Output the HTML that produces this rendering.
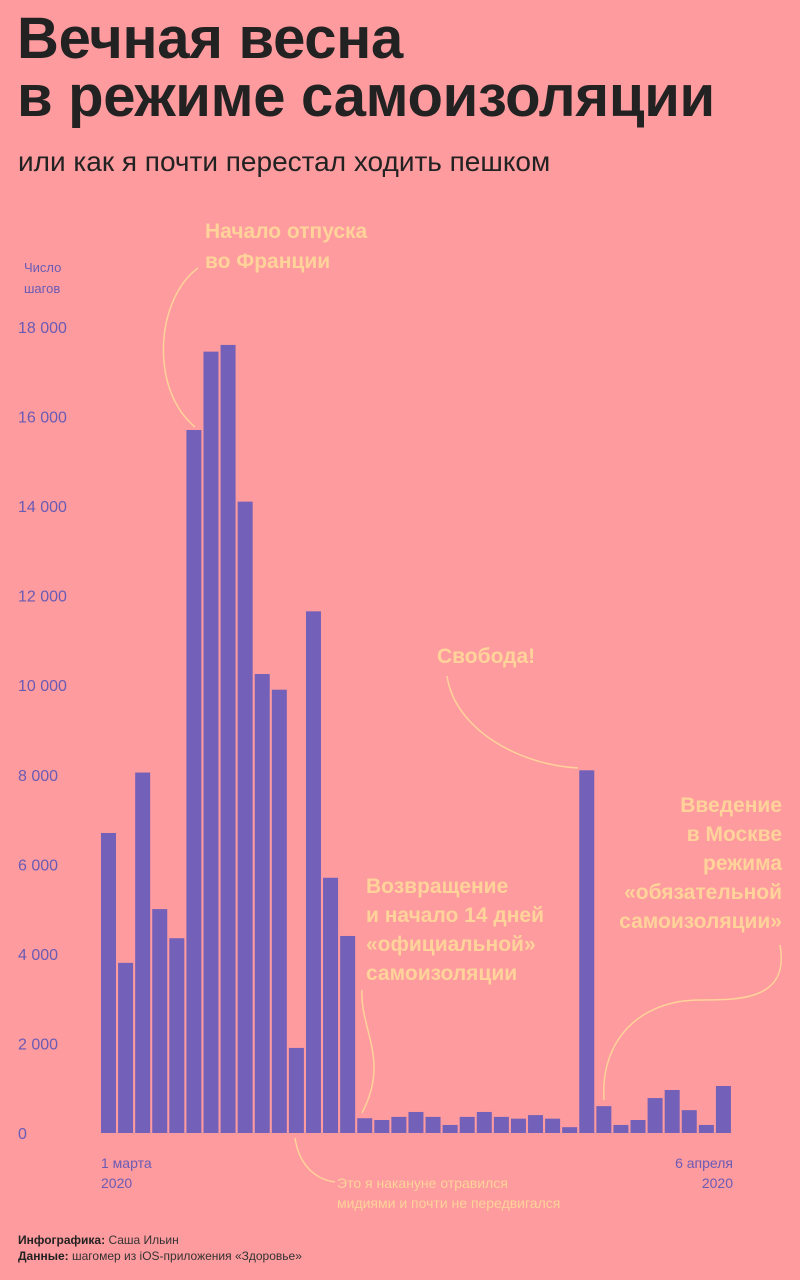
<!DOCTYPE html>
<html><head><meta charset="utf-8"><style>
body{margin:0;width:800px;height:1280px;background:#fe9b9e;font-family:"Liberation Sans","Noto Sans CJK SC",sans-serif;overflow:hidden;position:relative}
.t{position:absolute;margin:0}
</style></head><body>
<h1 class="t" style="left:17px;top:10px;font-size:58px;line-height:58px;font-weight:bold;color:#222;letter-spacing:-0.3px">Вечная весна<br>в режиме самоизоляции</h1>
<div class="t" style="left:18px;top:146px;font-size:28px;color:#222">или как я почти перестал ходить пешком</div>
<svg id="chart" width="800" height="1280" style="position:absolute;left:0;top:0"></svg>
<div class="t" style="left:18px;top:1232px;font-size:12px;line-height:16px;color:#333"><b style="color:#222">Инфографика:</b> Саша Ильин<br><b style="color:#222">Данные:</b> шагомер из iOS-приложения «Здоровье»</div>
<script>
const categories = Array.from({length:37},(_,i)=>i+1);
const steps = [6700,3800,8050,5000,4350,15700,17450,17600,14100,10250,9900,1900,11650,5700,4400,330,290,360,470,360,180,360,470,360,320,400,320,130,8100,600,180,290,780,960,510,180,1050];
const yTicks = [0,2000,4000,6000,8000,10000,12000,14000,16000,18000];
const yTickLabels = ["0","2 000","4 000","6 000","8 000","10 000","12 000","14 000","16 000","18 000"];
const svg=document.getElementById('chart');
const NS='http://www.w3.org/2000/svg';
const x0=101,x1=733,base=1133,top18=327;
const pitch=(x1-x0)/categories.length,bw=15;
const xPos=i=>x0+i*pitch;
const yPos=v=>base-(v/18000)*(base-top18);
function mk(tag,attrs,txt){const e=document.createElementNS(NS,tag);for(const k in attrs)e.setAttribute(k,attrs[k]);if(txt!=null)e.textContent=txt;svg.appendChild(e);return e;}
yTicks.forEach((v,i)=>{
 const t=mk('text',{x:18,y:yPos(v)+6,fill:'#6a5bb5','font-size':16},yTickLabels[i]);
 
 
});
steps.forEach((v,i)=>{
 const r=mk('rect',{x:xPos(i),y:yPos(v),width:bw,height:base-yPos(v),fill:'#7360b8'});
 
 
});
const ann='#ffd39a';
function txt(lines,x,y,size,fill,anchor,name,lh,weight){
 lines.forEach((l,k)=>{const t=mk('text',{x:x,y:y+k*lh,fill:fill,'font-size':size,'text-anchor':anchor||'start','font-weight':weight||'normal'},l);
 
 });
}
txt(['Число','шагов'],24,272,13,'#6a5bb5','start','y-axis-title',21);
txt(['1 марта','2020'],101,1168,14,'#6a5bb5','start','x-label-start',20);
txt(['6 апреля','2020'],733,1168,14,'#6a5bb5','end','x-label-end',20);
txt(['Начало отпуска','во Франции'],205,238,21,ann,'start','annotation-france',30,'bold');
txt(['Свобода!'],437,663,21,ann,'start','annotation-freedom',30,'bold');
txt(['Возвращение','и начало 14 дней','«официальной»','самоизоляции'],366,893,21,ann,'start','annotation-return',29,'bold');
txt(['Введение','в Москве','режима','«обязательной','самоизоляции»'],782,812,21,ann,'end','annotation-moscow',29,'bold');
txt(['Это я накануне отравился','мидиями и почти не передвигался'],337,1188,14,ann,'start','annotation-poisoned',20);
function path(d,name){const p=mk('path',{d:d,fill:'none',stroke:ann,'stroke-width':1.5});
 
 }
path('M198,268 C155,300 150,390 195,427','connector-france');
path('M447,676 C455,730 520,765 578,768','connector-freedom');
path('M362,990 C360,1030 390,1060 362,1113','connector-return');
path('M780,945 C790,1000 740,1000 700,1000 C640,1000 600,1040 604,1100','connector-moscow');
path('M295,1138 C300,1170 320,1180 335,1182','connector-poisoned');
</script>
</body></html>
